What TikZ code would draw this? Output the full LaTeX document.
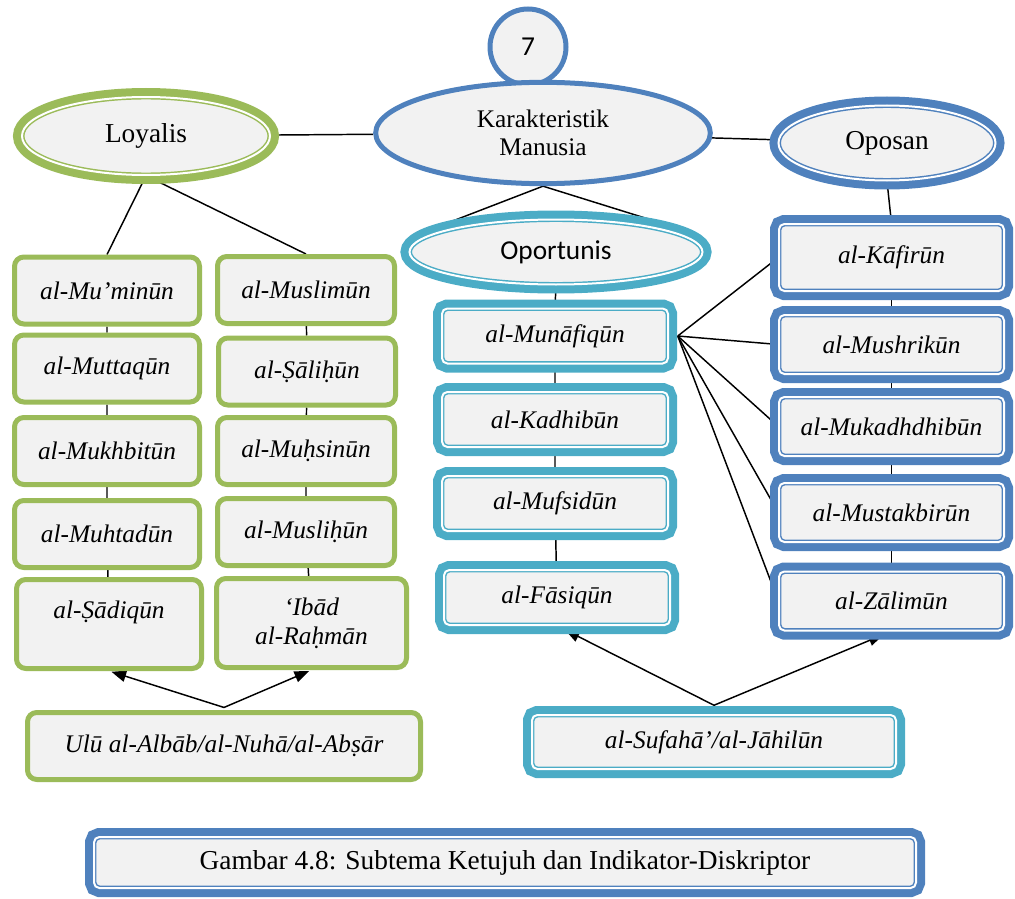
\documentclass[tikz,border=0pt]{standalone}
\usepackage{fontspec}
\setmainfont{Liberation Serif}
\newfontfamily\calibri{Carlito}
\usetikzlibrary{shapes.geometric}
\usetikzlibrary{arrows.meta}
\usetikzlibrary{backgrounds}
\definecolor{loyal}{HTML}{9BBB59}
\definecolor{oppo}{HTML}{4F81BD}
\definecolor{oport}{HTML}{4BACC6}
\definecolor{boxfill}{HTML}{F2F2F2}
\tikzset{
	single/.style={draw=#1, line width=3.75pt, fill=boxfill},
	twin/.style={preaction={draw=#1, line width=13.5pt}, draw=#1, double=white, double distance=1.5pt, line width=1.1pt, fill=boxfill},
	oval/.style={ellipse, inner sep=0pt, align=center, font=\fontsize{20.5}{24}\selectfont},
	term/.style={inner sep=0pt, align=center, font=\fontsize{19}{22}\selectfont\itshape},
	greenbox/.style={term, single=loyal, rounded corners=7pt},
	cyanbox/.style={term, twin=oport, rounded corners=4pt, minimum width=169.5pt, minimum height=41.25pt},
	bluebox/.style={term, twin=oppo, rounded corners=4pt, minimum width=168.75pt, minimum height=44.25pt},
	link/.style={line width=1.1pt},
	pointer/.style={line width=1.1pt, -{Triangle[length=11pt,width=8.5pt]}},
}
\begin{document}
\begin{tikzpicture}[x=0.75pt,y=-0.75pt]
		\useasboundingbox (0,0) rectangle (1015,899);
		
		% ellipses at the top
		\node[circle, single=oppo, minimum size=57pt, inner sep=0pt, font=\calibri\fontsize{20.5}{24}\selectfont] (seven) at (528,47) {7};
		\node[oval, single=oppo, minimum width=251pt, minimum height=76pt, font=\fontsize{19}{21}\selectfont] (karak) at (543,133) {Karakteristik\\Manusia};
		\node[oval, twin=loyal, minimum width=186pt, minimum height=58.5pt] (loyalis) at (146,136) {Loyalis};
		\node[oval, twin=oppo, minimum width=162.75pt, minimum height=56.25pt] (oposan) at (887,143) {Oposan};
		\node[oval, twin=oport, minimum width=219.75pt, minimum height=48.75pt, font=\calibri\fontsize{20.5}{24}\selectfont] (oportunis) at (556,252) {Oportunis};
		
		% loyalis, two columns
		\node[greenbox, minimum width=138.75pt, minimum height=50.25pt] (m1) at (107,290.5) {al-Mu’minūn};
		\node[greenbox, minimum width=138.75pt, minimum height=50.25pt] (m2) at (107,368.5) {al-Muttaqūn};
		\node[greenbox, minimum width=138.75pt, minimum height=50.25pt] (m3) at (107,451) {al-Mukhbitūn};
		\node[greenbox, minimum width=138.75pt, minimum height=50.25pt] (m4) at (107,534) {al-Muhtadūn};
		\node[greenbox, minimum width=138.75pt, minimum height=66.75pt] (m5) at (109,624) {al-Ṣādiqūn\\\mbox{}};
		
		\node[greenbox, minimum width=132.75pt, minimum height=50.25pt] (r1) at (306,290) {al-Muslimūn};
		\node[greenbox, minimum width=132.75pt, minimum height=50.25pt] (r2) at (307,371.5) {al-Ṣāliḥūn};
		\node[greenbox, minimum width=132.75pt, minimum height=50.25pt] (r3) at (306,451) {al-Muḥsinūn};
		\node[greenbox, minimum width=132.75pt, minimum height=50.25pt] (r4) at (306,532) {al-Musliḥūn};
		\node[greenbox, minimum width=142.5pt, minimum height=66.75pt] (r5) at (311.5,623) {‘Ibād\\al-Raḥmān};
		
		% oportunis
		\node[cyanbox] (c1) at (555,336) {al-Munāfiqūn};
		\node[cyanbox] (c2) at (555,419.5) {al-Kadhibūn};
		\node[cyanbox] (c3) at (555,503.5) {al-Mufsidūn};
		\node[cyanbox] (c4) at (557,597.5) {al-Fāsiqūn};
		
		% oposan
		\node[bluebox, minimum height=50.25pt] (b1) at (891.5,257.5) {al-Kāfirūn};
		\node[bluebox] (b2) at (891.5,344.5) {al-Mushrikūn};
		\node[bluebox] (b3) at (891.5,426.5) {al-Mukadhdhibūn};
		\node[bluebox] (b4) at (891.5,512.5) {al-Mustakbirūn};
		\node[bluebox] (b5) at (891.5,601) {al-Zālimūn};
		
		% bottom
		\node[greenbox, minimum width=294.75pt, minimum height=50.25pt] (ulu) at (224,746) {Ulū al-Albāb/al-Nuhā/al-Abṣār};
		\node[cyanbox, minimum width=273pt, minimum height=40.5pt] (sufaha) at (714,742) {al-Sufahā’/al-Jāhilūn};
		\node[term, twin=oppo, rounded corners=4pt, minimum width=616.5pt, minimum height=38.25pt, font=\fontsize{20.5}{24}\selectfont] (caption) at (505,862.5) {Gambar 4.8: Subtema Ketujuh dan Indikator-Diskriptor};
		
		\begin{scope}[on background layer]
			\draw[link] (loyalis) -- (karak);
			\draw[link] (karak) -- (oposan);
			\draw[link] (karak.south) -- ([xshift=-14pt]oportunis.north west);
			\draw[link] (karak.south) -- ([xshift=14pt]oportunis.north east);
			\draw[link] (loyalis.south) -- (m1.north);
			\draw[link] (loyalis.south) -- (r1.north);
			\draw[link] (oposan.south) -- (b1.north);
			\draw[link] (oportunis.south) -- (c1.north);
			\draw[link] (m1) -- (m2) -- (m3) -- (m4) -- (m5);
			\draw[link] (r1) -- (r2) -- (r3) -- (r4) -- (r5);
			\draw[link] (c1) -- (c2) -- (c3) -- (c4);
			\draw[link] (b1) -- (b2) -- (b3) -- (b4) -- (b5);
			\foreach \k in {b1,b2,b3,b4,b5}
				\draw[link] ([xshift=6.75pt]c1.east) -- (\k.west);
			\draw[pointer, shorten >=1.9pt] ([yshift=1.9pt]ulu.north) -- (m5.south);
			\draw[pointer, shorten >=1.9pt] ([yshift=1.9pt]ulu.north) -- (r5.south);
			\draw[pointer, shorten >=6.75pt] ([yshift=6.75pt]sufaha.north) -- (c4.south);
			\draw[pointer, shorten >=6.75pt] ([yshift=6.75pt]sufaha.north) -- (b5.south);
		\end{scope}
	\end{tikzpicture}
\end{document}
